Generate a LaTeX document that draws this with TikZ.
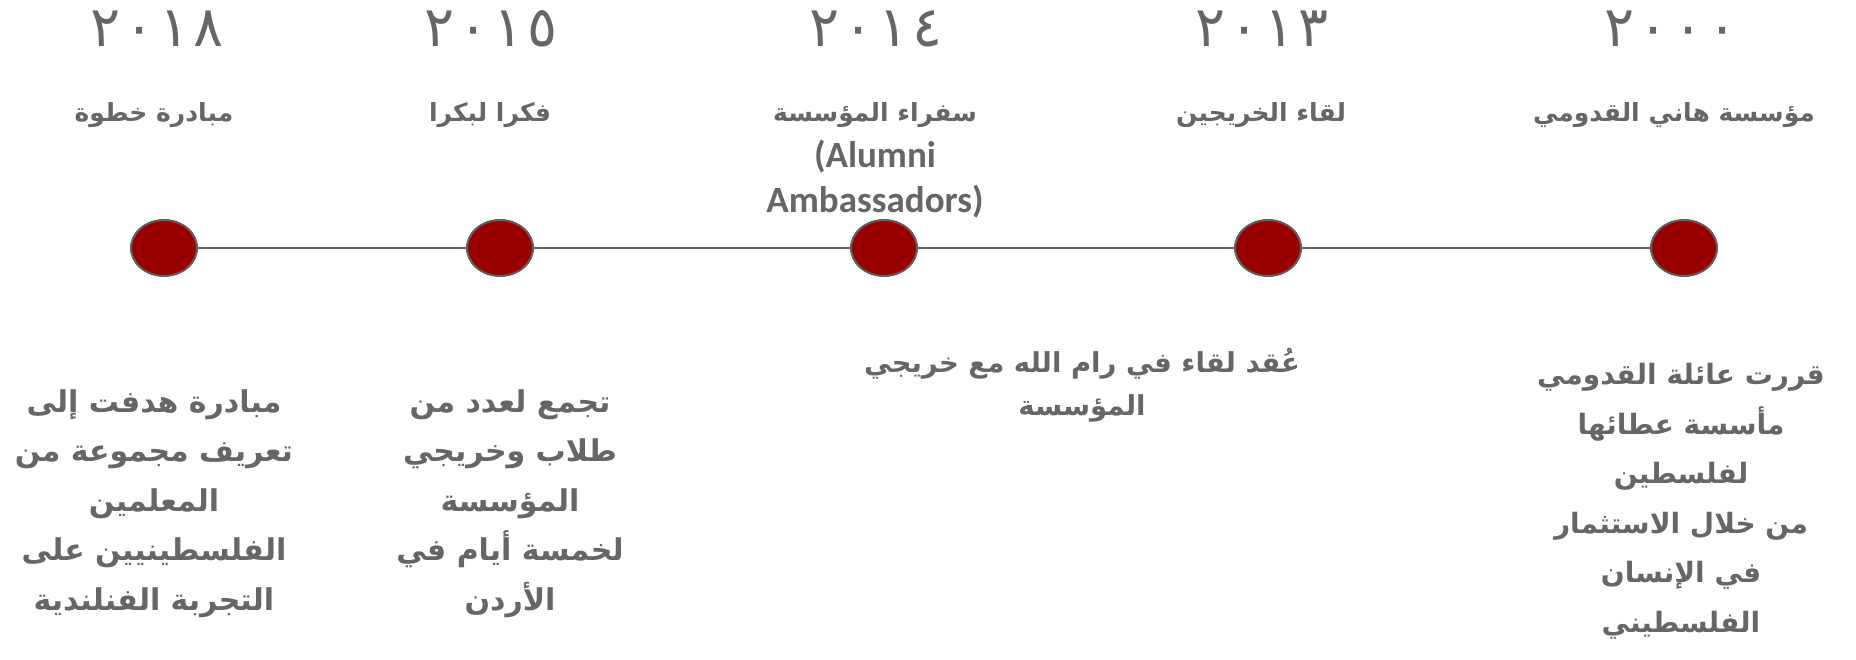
\documentclass[tikz,border=0pt]{standalone}
\usepackage{fontspec}
\usetikzlibrary{shapes.geometric}
\TeXXeTstate=1
\newfontfamily\arabicfont[Script=Arabic]{DejaVu Sans}
\newfontfamily\latinfont{Carlito}
\definecolor{txtgray}{RGB}{102,102,102}
\definecolor{dotred}{RGB}{153,0,0}
\definecolor{rimgray}{RGB}{96,96,96}
\newcommand{\yrgap}{\hspace{4.5pt}}
\begin{document}
\begin{tikzpicture}[x=1pt,y=-1pt,
  yearlbl/.style={text=txtgray, inner sep=0pt, anchor=base, font=\arabicfont\fontsize{56}{60}\selectfont},
  titlelbl/.style={text=txtgray, inner sep=0pt, anchor=base, align=center, font=\arabicfont\bfseries\fontsize{25}{45.5}\selectfont},
  desclbl/.style={text=txtgray, inner sep=0pt, anchor=base, align=center, font=\arabicfont\bfseries\fontsize{30}{49.5}\selectfont},
  eventdot/.style={ellipse, draw=rimgray, line width=2pt, fill=dotred, minimum width=66pt, minimum height=56pt, inner sep=0pt},
  axisline/.style={draw=rimgray, line width=1.6pt}]
\useasboundingbox (0,0) rectangle (1856,660);
% dots
\node[eventdot] (c1) at (164,248) {};
\node[eventdot] (c2) at (500,248) {};
\node[eventdot] (c3) at (884,248) {};
\node[eventdot] (c4) at (1268,248) {};
\node[eventdot] (c5) at (1684,248) {};
\draw[axisline] (c1) -- (c2) (c2) -- (c3) (c3) -- (c4) (c4) -- (c5);
% years
\node[yearlbl] (y1) at (157,47) {٢\yrgap٠\yrgap١\yrgap٨};
\node[yearlbl] (y2) at (491,47) {٢\yrgap٠\yrgap١\yrgap٥};
\node[yearlbl] (y3) at (876,47) {٢\yrgap٠\yrgap١\yrgap٤};
\node[yearlbl] (y4) at (1262,47) {٢\yrgap٠\yrgap١\yrgap٣};
\node[yearlbl] (y5) at (1671,47) {٢\yrgap٠\yrgap٠\yrgap٠};
% titles
\node[titlelbl] (t1) at (154,122) {\beginR مبادرة خطوة\endR};
\node[titlelbl] (t2) at (490,122) {\beginR فكرا لبكرا\endR};
\node[titlelbl] (t3) at (875,213) {\beginR سفراء المؤسسة\endR\\{\latinfont\bfseries\fontsize{37}{45.5}\selectfont (Alumni}\\{\latinfont\bfseries\fontsize{37}{45.5}\selectfont Ambassadors)}};
\node[titlelbl] (t4) at (1261,122) {\beginR لقاء الخريجين\endR};
\node[titlelbl] (t5) at (1674,122) {\beginR مؤسسة هاني القدومي\endR};
% descriptions
\node[desclbl] (d1) at (154,610) {\beginR مبادرة هدفت إلى\endR\\\beginR تعريف مجموعة من\endR\\\beginR المعلمين\endR\\\beginR الفلسطينيين على\endR\\\beginR التجربة الفنلندية\endR};
\node[desclbl] (d2) at (510,610) {\beginR تجمع لعدد من\endR\\\beginR طلاب وخريجي\endR\\\beginR المؤسسة\endR\\\beginR لخمسة أيام في\endR\\\beginR الأردن\endR};
\node[desclbl, font=\arabicfont\bfseries\fontsize{27.5}{43}\selectfont] (d3) at (1082,415) {\beginR عُقد لقاء في رام الله مع خريجي\endR\\\beginR المؤسسة\endR};
\node[desclbl, font=\arabicfont\bfseries\fontsize{28}{49.5}\selectfont] (d5) at (1681,632) {\beginR قررت عائلة القدومي\endR\\\beginR مأسسة عطائها\endR\\\beginR لفلسطين\endR\\\beginR من خلال الاستثمار\endR\\\beginR في الإنسان\endR\\\beginR الفلسطيني\endR};
\end{tikzpicture}
\end{document}
